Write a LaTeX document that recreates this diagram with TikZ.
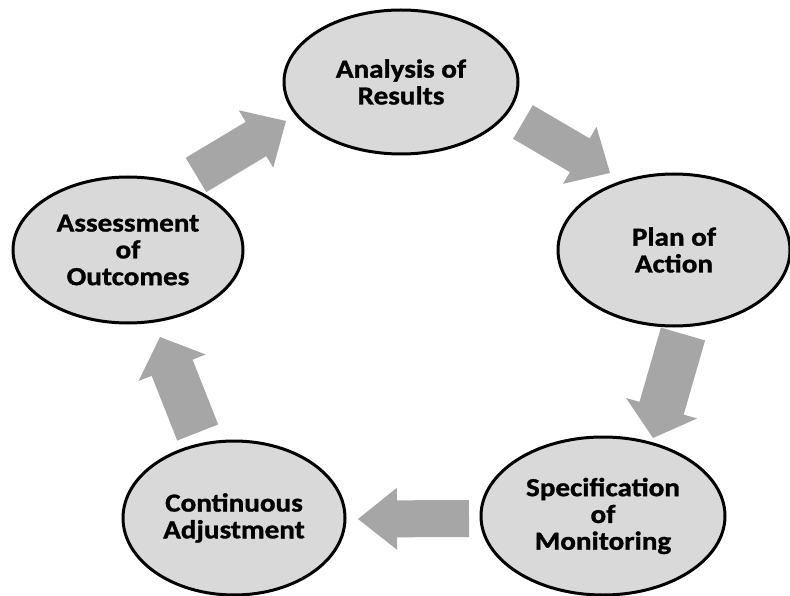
\documentclass[tikz,border=0pt]{standalone}
\usepackage{fontspec}
\setmainfont{Carlito}[FakeStretch=1.12, BoldFeatures={FakeBold=1.2}]
\usetikzlibrary{shapes.geometric,calc}
\definecolor{ellfill}{HTML}{D9D9D9}
\definecolor{arrgray}{HTML}{A6A6A6}
% block arrow from tail #1 to tip #2: shaft half-width #3, head half-width #4, head length #5
\newcommand\flowarrow[5]{%
  \fill[flowfill] ($(#1)!#3!90:(#2)$)
    -- ($($(#2)!#5!(#1)$)!#3!-90:(#1)$)
    -- ($($(#2)!#5!(#1)$)!#4!-90:(#1)$)
    -- (#2)
    -- ($($(#2)!#5!(#1)$)!#4!90:(#1)$)
    -- ($($(#2)!#5!(#1)$)!#3!90:(#1)$)
    -- ($(#1)!#3!-90:(#2)$) -- cycle;}
\begin{document}
\begin{tikzpicture}[x=1pt,y=-1pt,
  stage/.style={ellipse, draw=black, line width=3pt, fill=ellfill, inner sep=0pt,
    align=center, font=\bfseries\fontsize{26}{26.8}\selectfont},
  flowfill/.style={fill=arrgray}]
\useasboundingbox (0,0) rectangle (790,596);
\clip (0,0) rectangle (790,596);
\node[stage, minimum width=234pt, minimum height=144pt] (analysis) at (401,82) {Analysis of\\Results};
\node[stage, minimum width=232pt, minimum height=152pt] (plan) at (674,250) {Plan of\\Action};
\node[stage, minimum width=244pt, minimum height=158pt] (spec) at (603,516) {Specification\\of\\Monitoring};
\node[stage, minimum width=222pt, minimum height=154pt] (cont) at (234,518) {Continuous\\Adjustment};
\node[stage, minimum width=230pt, minimum height=146pt] (assess) at (128,250) {Assessment\\of\\Outcomes};
\coordinate (t1) at (196,175); \coordinate (h1) at (286,121);
\coordinate (t2) at (523,122); \coordinate (h2) at (610,173);
\coordinate (t3) at (683,334); \coordinate (h3) at (653,438);
\coordinate (t4) at (469,518.5); \coordinate (h4) at (358,519);
\coordinate (t5) at (197.7,432.5); \coordinate (h5) at (160,337);
\flowarrow{t1}{h1}{20pt}{33.5pt}{35pt}
\flowarrow{t2}{h2}{19.5pt}{33pt}{35pt}
\flowarrow{t3}{h3}{23pt}{37pt}{31pt}
\flowarrow{t4}{h4}{18.5pt}{31pt}{39pt}
\flowarrow{t5}{h5}{22pt}{36pt}{33pt}
\end{tikzpicture}
\end{document}
